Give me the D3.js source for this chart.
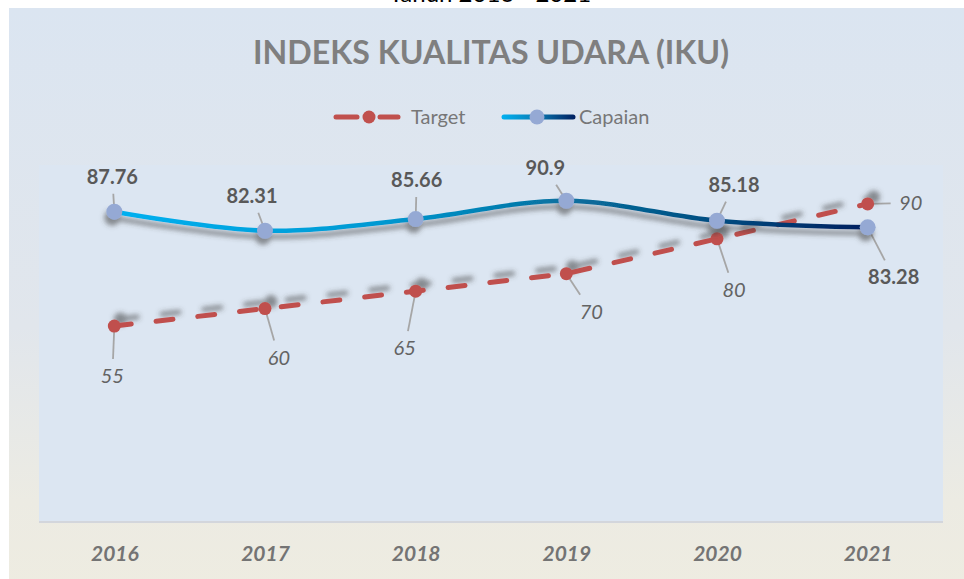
<!DOCTYPE html>
<html>
<head>
<meta charset="utf-8">
<script src="https://cdn.jsdelivr.net/npm/d3@7"></script>
<style>
  body { margin: 0; background: #fff; }
  svg { display: block; font-family: Lato, "Open Sans", sans-serif; }
</style>
</head>
<body>
<div id="container"></div>
<script>
/* CONSTANTS AND DATA */
const width = 964, height = 579;
const plot = { left: 39, right: 943, top: 165, bottom: 522 };

const years = ["2016", "2017", "2018", "2019", "2020", "2021"];
const target = [55, 60, 65, 70, 80, 90];
const capaian = [87.76, 82.31, 85.66, 90.9, 85.18, 83.28];
const seriesNames = ["Target", "Capaian"];

// label offsets from each point (layout only)
const capaianLabelOff = [[-2, -35], [-13, -35], [1, -39], [-21, -33], [17, -36], [26, 50]];
const targetLabelOff = [[-2, 50], [14, 49], [-11, 57], [25, 38], [17, 51], [43, -1]];

const svg = d3.select("#container").append("svg")
  .attr("width", width)
  .attr("height", height);

const defs = svg.append("defs");

const bgGrad = defs.append("linearGradient").attr("id", "bg")
  .attr("x1", 0).attr("y1", 0).attr("x2", 0).attr("y2", 1);
bgGrad.append("stop").attr("offset", 0).attr("stop-color", "#dbe5f1");
bgGrad.append("stop").attr("offset", 0.55).attr("stop-color", "#e1e6ec");
bgGrad.append("stop").attr("offset", 0.85).attr("stop-color", "#ecebe3");
bgGrad.append("stop").attr("offset", 1).attr("stop-color", "#eeece1");

const lineGrad = defs.append("linearGradient").attr("id", "capGrad")
  .attr("gradientUnits", "userSpaceOnUse")
  .attr("x1", 113).attr("y1", 0).attr("x2", 868).attr("y2", 0);
[[0, "#00b0f0"], [0.35, "#0099d2"], [0.6, "#08709f"], [0.8, "#034c80"], [1, "#002060"]]
  .forEach(s => lineGrad.append("stop").attr("offset", s[0]).attr("stop-color", s[1]));

function shadow(id, dx, dy) {
  const f = defs.append("filter").attr("id", id)
    .attr("x", "-20%").attr("y", "-50%").attr("width", "140%").attr("height", "200%");
  f.append("feGaussianBlur").attr("in", "SourceAlpha").attr("stdDeviation", 2.5).attr("result", "b");
  f.append("feOffset").attr("in", "b").attr("dx", dx).attr("dy", dy).attr("result", "o");
  f.append("feFlood").attr("flood-color", "#404040").attr("flood-opacity", 0.55).attr("result", "c");
  f.append("feComposite").attr("in", "c").attr("in2", "o").attr("operator", "in").attr("result", "s");
  const m = f.append("feMerge");
  m.append("feMergeNode").attr("in", "s");
  m.append("feMergeNode").attr("in", "SourceGraphic");
}
shadow("shCap", -2, 6);
shadow("shTgt", 6, -7);

/* BACKGROUND */
svg.append("rect")
  .attr("x", 9).attr("y", 8)
  .attr("width", width).attr("height", height)
  .attr("fill", "url(#bg)");

svg.append("text")
  .attr("x", 490).attr("y", 2)
  .attr("text-anchor", "middle")
  .attr("font-size", 24)
  .attr("fill", "#000")
  .text("Tahun 2016 - 2021");

svg.append("rect")
  .attr("x", plot.left).attr("y", plot.top)
  .attr("width", plot.right - plot.left).attr("height", plot.bottom - plot.top)
  .attr("fill", "#dce6f2");
svg.append("line")
  .attr("x1", plot.left).attr("x2", plot.right)
  .attr("y1", plot.bottom).attr("y2", plot.bottom)
  .attr("stroke", "#d3d6dc").attr("stroke-width", 2);

/* TITLE */
svg.append("text")
  .attr("x", 491).attr("y", 64)
  .attr("text-anchor", "middle")
  .attr("font-size", 32)
  .attr("font-weight", "bold")
  .attr("fill", "#7f7f7f")
  .attr("textLength", 476)
  .attr("lengthAdjust", "spacingAndGlyphs")
  .text("INDEKS KUALITAS UDARA (IKU)");

/* SCALES */
const xScale = d3.scalePoint()
  .domain(years)
  .range([plot.left, plot.right])
  .padding(0.5);

const yScale = d3.scaleLinear()
  .domain([0, 100])
  .range([518, 169]);

/* X AXIS */
const xAxis = d3.axisBottom(xScale).tickSize(0).tickPadding(0);
const xAxisGroup = svg.append("g")
  .attr("transform", `translate(0, 561)`)
  .call(xAxis);
xAxisGroup.select(".domain").remove();
xAxisGroup.selectAll("text")
  .attr("dy", 0)
  .attr("y", 0)
  .attr("font-family", "Lato, sans-serif")
  .attr("font-size", 21)
  .attr("font-weight", "bold")
  .attr("font-style", "italic")
  .attr("fill", "#747474");

/* LEGEND */
const legend = svg.append("g");
legend.append("line").attr("x1", 336).attr("x2", 357).attr("y1", 117).attr("y2", 117)
  .attr("stroke", "#c0504d").attr("stroke-width", 5).attr("stroke-linecap", "round");
legend.append("line").attr("x1", 380).attr("x2", 398).attr("y1", 117).attr("y2", 117)
  .attr("stroke", "#c0504d").attr("stroke-width", 5).attr("stroke-linecap", "round");
legend.append("circle").attr("cx", 369).attr("cy", 117).attr("r", 6.5).attr("fill", "#c0504d");
legend.append("text").attr("x", 411).attr("y", 124)
  .attr("font-size", 20).attr("fill", "#777").text(seriesNames[0]);

const legGrad = defs.append("linearGradient").attr("id", "legGrad")
  .attr("gradientUnits", "userSpaceOnUse")
  .attr("x1", 502).attr("y1", 0).attr("x2", 575).attr("y2", 0);
legGrad.append("stop").attr("offset", 0).attr("stop-color", "#00b0f0");
legGrad.append("stop").attr("offset", 0.45).attr("stop-color", "#0a80b8");
legGrad.append("stop").attr("offset", 1).attr("stop-color", "#002060");
legend.append("line").attr("x1", 504).attr("x2", 573).attr("y1", 117).attr("y2", 117)
  .attr("stroke", "url(#legGrad)").attr("stroke-width", 5).attr("stroke-linecap", "round");
legend.append("circle").attr("cx", 537).attr("cy", 117).attr("r", 7.5).attr("fill", "#95a9d4");
legend.append("text").attr("x", 579).attr("y", 124)
  .attr("font-size", 20).attr("fill", "#777").text(seriesNames[1]);

/* LINES */
const tgtData = years.map((y, i) => ({ year: y, value: target[i], off: targetLabelOff[i] }));
const capData = years.map((y, i) => ({ year: y, value: capaian[i], off: capaianLabelOff[i] }));

const px = d => xScale(d.year), py = d => yScale(d.value);

// leader line from point towards label box edge
function leader(d, hw, hh) {
  const x0 = px(d), y0 = py(d);
  const lx = x0 + d.off[0], ly = y0 + d.off[1];
  const vx = x0 - lx, vy = y0 - ly;
  const t = 1 / Math.max(Math.abs(vx) / hw, Math.abs(vy) / hh);
  return { x1: lx + vx * t, y1: ly + vy * t, x2: x0, y2: y0 };
}

const labelGroup = svg.append("g");

function drawLeaders(data, hwFn) {
  labelGroup.selectAll(null)
    .data(data)
    .join("line")
    .each(function(d) {
      const l = leader(d, hwFn(d), 17);
      d3.select(this).attr("x1", l.x1).attr("y1", l.y1).attr("x2", l.x2).attr("y2", l.y2);
    })
    .attr("stroke", "#a6a6a6")
    .attr("stroke-width", 1.8);
}
drawLeaders(tgtData, d => 20);
drawLeaders(capData, d => 34);

const tgtGroup = svg.append("g").attr("filter", "url(#shTgt)");
tgtGroup.append("path")
  .datum(tgtData)
  .attr("d", d3.line().x(px).y(py))
  .attr("fill", "none")
  .attr("stroke", "#c0504d")
  .attr("stroke-width", 5)
  .attr("stroke-linecap", "round")
  .attr("stroke-dasharray", "17 25");
tgtGroup.selectAll("circle")
  .data(tgtData)
  .join("circle")
  .attr("cx", px).attr("cy", py).attr("r", 6.5)
  .attr("fill", "#c0504d");

const capGroup = svg.append("g").attr("filter", "url(#shCap)");
capGroup.append("path")
  .datum(capData)
  .attr("d", d3.line().x(px).y(py).curve(d3.curveCatmullRom.alpha(0.5)))
  .attr("fill", "none")
  .attr("stroke", "url(#capGrad)")
  .attr("stroke-width", 4.5);
capGroup.selectAll("circle")
  .data(capData)
  .join("circle")
  .attr("cx", px).attr("cy", py).attr("r", 8)
  .attr("fill", "#95a9d4");

/* DATA LABELS */
svg.append("g").selectAll("text")
  .data(capData)
  .join("text")
  .attr("x", d => px(d) + d.off[0])
  .attr("y", d => py(d) + d.off[1] + 7)
  .attr("text-anchor", "middle")
  .attr("font-size", 20)
  .attr("font-weight", "bold")
  .attr("fill", "#595959")
  .text(d => d.value);

svg.append("g").selectAll("text")
  .data(tgtData)
  .join("text")
  .attr("x", d => px(d) + d.off[0])
  .attr("y", d => py(d) + d.off[1] + 7)
  .attr("text-anchor", "middle")
  .attr("font-size", 20)
  .attr("font-style", "italic")
  .attr("fill", "#636363")
  .text(d => d.value);
</script>
</body>
</html>
